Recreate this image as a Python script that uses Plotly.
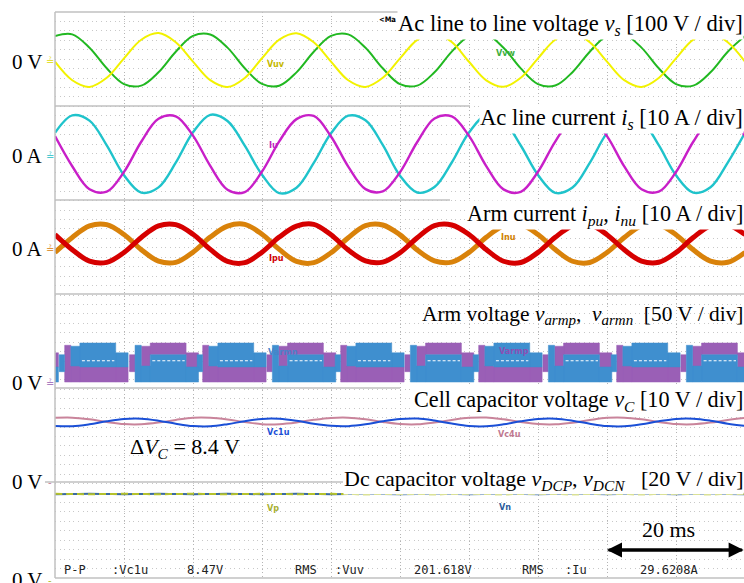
import plotly.graph_objects as go

# ---------------- data ----------------
t_ms = [0.0, 2.5, 5.0, 7.5, 10.0, 12.5, 15.0, 17.5, 20.0, 22.5, 25.0, 27.5, 30.0, 32.5,
        35.0, 37.5, 40.0, 42.5, 45.0, 47.5, 50.0, 52.5, 55.0, 57.5, 60.0, 62.5, 65.0,
        67.5, 70.0, 72.5, 75.0, 77.5, 80.0, 82.5, 85.0, 87.5, 90.0, 92.5, 95.0, 97.5, 100.0]

# Ac line-to-line voltages [V]
v_vw = [255, 272, 130, -88, -255, -272, -130, 88,
        256, 271, 131, -87, -254, -273, -131, 87,
        255, 272, 129, -88, -256, -272, -130, 89,
        254, 273, 130, -89, -255, -271, -129, 88,
        256, 272, 131, -88, -255, -272, -130, 88,
        255]
v_uv = [-18, -215, -285, -189, 18, 215, 285, 189,
        -17, -214, -286, -190, 19, 216, 284, 188,
        -18, -215, -285, -189, 17, 214, 286, 190,
        -19, -216, -284, -188, 18, 215, 285, 189,
        -18, -214, -285, -190, 18, 216, 285, 188,
        -18]
# Ac line currents [A]
i_v = [22.5, 41.0, 35.4, 9.2, -22.5, -41.0, -35.4, -9.2,
       23.0, 41.5, 35.0, 8.8, -22.0, -41.5, -35.8, -9.5,
       22.0, 40.6, 35.8, 9.6, -23.0, -40.8, -35.0, -9.0,
       22.8, 41.3, 35.2, 9.0, -22.3, -41.2, -35.6, -9.4,
       22.4, 41.0, 35.5, 9.3, -22.6, -41.0, -35.3, -9.1,
       22.5]
i_u = [19.0, -13.0, -37.4, -40.0, -19.0, 13.0, 37.4, 40.0,
       19.5, -12.6, -37.8, -40.4, -18.6, 13.4, 37.0, 40.3,
       18.6, -13.3, -37.2, -39.7, -19.3, 12.7, 37.7, 39.8,
       19.2, -12.8, -37.5, -40.2, -18.8, 13.2, 37.3, 40.1,
       19.0, -13.1, -37.4, -40.0, -19.1, 13.0, 37.5, 40.0,
       19.0]
# Arm currents [A]
i_pu = [15.3, -0.7, -12.9, -14.2, -3.7, 12.3, 24.5, 25.8,
        15.6, -0.4, -13.2, -14.5, -3.4, 12.6, 24.2, 26.1,
        15.0, -1.0, -12.6, -13.9, -4.0, 12.0, 24.8, 25.5,
        15.4, -0.6, -13.0, -14.3, -3.6, 12.4, 24.4, 25.9,
        15.2, -0.8, -12.8, -14.1, -3.8, 12.2, 24.6, 25.7,
        15.3]
i_nu = [-3.7, 12.3, 24.5, 25.8, 15.3, -0.7, -12.9, -14.2,
        -3.4, 12.6, 24.2, 26.1, 15.6, -0.4, -13.2, -14.5,
        -4.0, 12.0, 24.8, 25.5, 15.0, -1.0, -12.6, -13.9,
        -3.6, 12.4, 24.4, 25.9, 15.4, -0.6, -13.0, -14.3,
        -3.8, 12.2, 24.6, 25.7, 15.2, -0.8, -12.8, -14.1,
        -3.7]
# Cell capacitor voltages [V]
v_c4u = [68.0, 68.2, 66.4, 63.6, 61.4, 61.2, 63.0, 65.8,
         68.1, 68.1, 66.3, 63.5, 61.3, 61.3, 63.1, 65.9,
         67.9, 68.2, 66.5, 63.6, 61.4, 61.1, 63.0, 65.8,
         68.0, 68.3, 66.4, 63.7, 61.5, 61.2, 62.9, 65.7,
         68.0, 68.2, 66.4, 63.6, 61.4, 61.2, 63.0, 65.8,
         68.0]
v_c1u = [59.4, 59.1, 61.2, 64.4, 66.8, 67.1, 65.0, 61.8,
         59.3, 59.0, 61.3, 64.5, 66.9, 67.0, 64.9, 61.7,
         59.5, 59.2, 61.1, 64.3, 66.7, 67.2, 65.1, 61.9,
         59.4, 59.1, 61.2, 64.4, 66.8, 67.1, 65.0, 61.8,
         59.3, 59.0, 61.2, 64.4, 66.9, 67.1, 65.0, 61.8,
         59.4]
# Dc capacitor voltages [V]
v_p = [178.4, 178.0, 177.7, 178.1, 178.4, 178.0, 177.7, 178.1,
       178.5, 178.0, 177.6, 178.1, 178.4, 178.0, 177.7, 178.0,
       178.4, 178.1, 177.7, 178.1, 178.3, 178.0, 177.7, 178.1,
       178.4, 178.0, 177.6, 178.1, 178.4, 178.0, 177.7, 178.1,
       178.5, 178.0, 177.7, 178.0, 178.4, 178.0, 177.7, 178.1,
       178.4]
v_n = [177.7, 178.0, 178.4, 178.0, 177.7, 178.0, 178.4, 178.0,
       177.6, 178.0, 178.5, 178.0, 177.7, 178.0, 178.4, 178.1,
       177.7, 177.9, 178.4, 178.0, 177.8, 178.0, 178.4, 178.0,
       177.7, 178.0, 178.5, 178.0, 177.7, 178.0, 178.4, 178.0,
       177.6, 178.0, 178.4, 178.1, 177.7, 178.0, 178.4, 178.0,
       177.7]

# Arm voltages (multilevel PWM bands) [V]: transition instants and band levels
p_high_T = [-8.0, 12.3, 32.2, 52.2, 72.2, 92.2]   # purple (v_armp) high after these
n_high_T = [2.1, 22.1, 42.1, 62.1, 82.1]          # blue (v_armn) high after these
seg_start = [-1.5, -0.7, 0.2, 1.5, 6.7]
seg_end = [-0.7, 0.2, 1.5, 6.7, 8.5]
p_hi_lo = [60, None, 90, 150, 85]
p_hi_hi = [150, None, 195, 212, 160]
p_lo_lo = [None, 5, 5, 5, 5]
p_lo_hi = [None, 200, 90, 85, 85]
n_hi_lo = [60, None, 90, 85, 85]
n_hi_hi = [150, None, 195, 212, 160]
n_lo_lo = [None, 5, 5, 5, 5]
n_lo_hi = [None, 200, 90, 150, 85]
dash_level = 118

# ---------------- layout geometry ----------------
W, H = 744, 583
PL, PT = 55, 12
PB_PX = 578
PLOT_H = PB_PX - PT
DIV_PX = PLOT_H / 60.0
PX_PER_MS = 6.9
XMAX = (W - PL) / PX_PER_MS


def yrange(zero_px, per_div):
    return [-(PB_PX - zero_px) / DIV_PX * per_div, (zero_px - PT) / DIV_PX * per_div]


def py(ypx):
    return (PB_PX - ypx) / PLOT_H


def px(xpx):
    return (xpx - PL) / (W - PL)


def blocks(los, his, Ts):
    xs, ys = [], []
    for T in Ts:
        for s0, s1, lo, hi in zip(seg_start, seg_end, los, his):
            if lo is None:
                continue
            xs += [T + s0, T + s1, T + s1, T + s0, T + s0, None]
            ys += [lo, lo, hi, hi, lo, None]
    return xs, ys


fig = go.Figure()

# voltage panel (y2)
fig.add_trace(go.Scatter(x=t_ms, y=v_vw, yaxis="y2", mode="lines", line=dict(color="#21b821", width=2, shape="spline")))
fig.add_trace(go.Scatter(x=t_ms, y=v_uv, yaxis="y2", mode="lines", line=dict(color="#f2f200", width=2, shape="spline")))
# line currents (y3)
fig.add_trace(go.Scatter(x=t_ms, y=i_v, yaxis="y3", mode="lines", line=dict(color="#1fc3cb", width=2.4, shape="spline")))
fig.add_trace(go.Scatter(x=t_ms, y=i_u, yaxis="y3", mode="lines", line=dict(color="#c81fc8", width=2.4, shape="spline")))
# arm currents (y4)
fig.add_trace(go.Scatter(x=t_ms, y=i_nu, yaxis="y4", mode="lines", line=dict(color="#d9820a", width=5, shape="spline")))
fig.add_trace(go.Scatter(x=t_ms, y=i_pu, yaxis="y4", mode="lines", line=dict(color="#d60000", width=5, shape="spline")))
# arm voltages (y5)
pxs, pys = blocks(p_hi_lo, p_hi_hi, p_high_T)
qx, qy = blocks(p_lo_lo, p_lo_hi, n_high_T)
fig.add_trace(go.Scatter(x=pxs + qx, y=pys + qy, yaxis="y5", mode="lines", fill="toself",
                         fillcolor="#9a5fb6", line=dict(color="#9a5fb6", width=0.5)))
nxs, nys = blocks(n_hi_lo, n_hi_hi, n_high_T)
mx, my = blocks(n_lo_lo, n_lo_hi, p_high_T)
fig.add_trace(go.Scatter(x=nxs + mx, y=nys + my, yaxis="y5", mode="lines", fill="toself",
                         fillcolor="#3f8fcf", line=dict(color="#3f8fcf", width=0.5)))
dx, dy = [], []
for T in sorted(p_high_T + n_high_T):
    dx += [T + 1.8, T + 6.5, None]
    dy += [dash_level, dash_level, None]
fig.add_trace(go.Scatter(x=dx, y=dy, yaxis="y5", mode="lines",
                         line=dict(color="white", width=1.2, dash="3px,2px")))
# cell capacitor voltages (y6)
fig.add_trace(go.Scatter(x=t_ms, y=v_c4u, yaxis="y6", mode="lines", line=dict(color="#c9849b", width=2, shape="spline")))
fig.add_trace(go.Scatter(x=t_ms, y=v_c1u, yaxis="y6", mode="lines", line=dict(color="#1a4fd6", width=2, shape="spline")))
# dc capacitor voltages (y)
fig.add_trace(go.Scatter(x=t_ms, y=v_n, yaxis="y", mode="lines", line=dict(color="#3a6aa0", width=2, shape="spline")))
fig.add_trace(go.Scatter(x=t_ms, y=v_p, yaxis="y", mode="lines", line=dict(color="#b5c22c", width=2, shape="spline", dash="7px,4px")))

ax_common = dict(visible=False, overlaying="y", fixedrange=True)
fig.update_layout(
    width=W, height=H, showlegend=False,
    margin=dict(l=PL, r=0, t=PT, b=H - PB_PX, pad=0),
    paper_bgcolor="white", plot_bgcolor="white",
    xaxis=dict(range=[0, XMAX], dtick=10, showgrid=True, gridcolor="#b4b4b4", griddash="1px,2.5px",
               gridwidth=1, showticklabels=False, zeroline=False, showline=False, ticks=""),
    yaxis=dict(range=yrange(578, 20), dtick=20, showgrid=True, gridcolor="#c8c8c8", griddash="1px,3.6px",
               gridwidth=1, showticklabels=False, zeroline=False, showline=False, ticks=""),
    yaxis2=dict(range=yrange(60, 100), **ax_common),
    yaxis3=dict(range=yrange(154, 10), **ax_common),
    yaxis4=dict(range=yrange(249, 10), **ax_common),
    yaxis5=dict(range=yrange(383, 50), **ax_common),
    yaxis6=dict(range=yrange(482, 10), **ax_common),
)

# panel border / separator lines
sep = [(55, 55, 12, 578), (55, 400, 12, 12), (55, 470, 106, 106), (55, 450, 200, 200),
       (55, 744, 294, 294), (55, 400, 388, 388), (45, 343, 482, 482), (55, 744, 578, 578)]
for x0, x1, y0, y1 in sep:
    fig.add_shape(type="line", xref="paper", yref="paper", x0=px(x0), x1=px(x1), y0=py(y0), y1=py(y1),
                  line=dict(color="#c0c0c0", width=1.5), layer="above")

ann = []
serif = "Liberation Serif, Times New Roman, serif"
titles = [
    ("Ac line to line voltage <i>v<sub>s</sub></i> [100 V / div]", 25, True, 22.6),
    ("Ac line current <i>i<sub>s</sub></i> [10 A / div]", 119, True, 22.6),
    ("Arm current <i>i<sub>pu</sub></i>, <i>i<sub>nu</sub></i> [10 A / div]", 215, True, 22.2),
    ("Arm voltage <i>v<sub>armp</sub></i>,  <i>v<sub>armn</sub></i>  [50 V / div]", 315, False, 21.4),
    ("Cell capacitor voltage <i>v<sub>C</sub></i> [10 V / div]", 401, True, 22.2),
    ("Dc capacitor voltage <i>v<sub>DCP</sub></i>, <i>v<sub>DCN</sub></i>   [20 V / div]", 480, True, 22.0),
]
for txt, yc, bg, fs in titles:
    ann.append(dict(text=txt, xref="paper", yref="paper", x=1.0, y=py(yc), xanchor="right", yanchor="middle",
                    showarrow=False, font=dict(family=serif, size=fs, color="black"),
                    bgcolor="white" if bg else "rgba(0,0,0,0)", borderpad=0))

zero_labels = [("0 V", 62, "#e0d800", "≟"), ("0 A", 156, "#20c0c8", "≟"), ("0 A", 249, "#d9820a", "≟"),
               ("0 V", 383, "#9a5fb6", "≟"), ("0 V", 482, "#c9849b", "-"), ("0 V", 580, "#b5c22c", "-")]
for txt, yc, col, mk in zero_labels:
    ann.append(dict(text=txt, xref="paper", yref="paper", x=px(45), y=py(yc), xanchor="right", yanchor="middle",
                    showarrow=False, font=dict(family=serif, size=21, color="black")))
    ann.append(dict(text=mk, xref="paper", yref="paper", x=px(49.5), y=py(yc), xanchor="center", yanchor="middle",
                    showarrow=False, font=dict(family="DejaVu Sans", size=10, color=col)))

labfont = "DejaVu Sans Condensed, DejaVu Sans, sans-serif"
labels = [("Vuv", 276, 64, "#c4b800"), ("Vvw", 506, 53, "#3cae3c"), ("Iu", 273, 145, "#c020c0"),
          ("Ipu", 276, 258, "#d00000"), ("Inu", 508, 237, "#d08000"), ("Varmn", 283, 352, "#4a82c8"),
          ("Varmp", 514, 351, "#8a50b4"), ("Vc1u", 278, 432, "#1a4fd6"), ("Vc4u", 509, 434, "#c07890"),
          ("Vp", 273, 508, "#a8b030"), ("Vn", 505, 507, "#2a5a9a")]
for txt, xc, yc, col in labels:
    ann.append(dict(text="<b>" + txt + "</b>", xref="paper", yref="paper", x=px(xc), y=py(yc),
                    xanchor="center", yanchor="middle", showarrow=False,
                    font=dict(family=labfont, size=9, color=col)))

ann.append(dict(text="<b>&lt;Ma</b>", xref="paper", yref="paper", x=px(387), y=py(20), xanchor="center",
                yanchor="middle", showarrow=False, font=dict(family=labfont, size=7.5, color="black")))

ann.append(dict(text="Δ<i>V<sub>C</sub></i> = 8.4 V", xref="paper", yref="paper", x=px(128), y=py(448),
                xanchor="left", yanchor="middle", showarrow=False, font=dict(family=serif, size=22, color="black")))
ann.append(dict(text="20 ms", xref="paper", yref="paper", x=px(668), y=py(529), xanchor="center",
                yanchor="middle", showarrow=False, font=dict(family=serif, size=22, color="black")))
# 20 ms double arrow
ann.append(dict(text="", xref="x", yref="paper", x=80.0, y=py(550), axref="x", ax=99.8, ayref="pixel", ay=0,
                showarrow=True, arrowhead=2, arrowsize=1, arrowwidth=3, arrowcolor="black"))
ann.append(dict(text="", xref="x", yref="paper", x=99.8, y=py(550), axref="x", ax=80.0, ayref="pixel", ay=0,
                showarrow=True, arrowhead=2, arrowsize=1, arrowwidth=3, arrowcolor="black"))

meas = [("P-P", 62), (":Vc1u", 110), ("8.47V", 185), ("RMS", 293), (":Vuv", 333), ("201.618V", 412),
        ("RMS", 520), (":Iu", 563), ("29.6208A", 638)]
for txt, xl in meas:
    ann.append(dict(text=txt, xref="paper", yref="paper", x=px(xl), y=py(570), xanchor="left", yanchor="middle",
                    showarrow=False, font=dict(family="DejaVu Sans Mono, monospace", size=12, color="#222222")))

fig.update_layout(annotations=ann)
fig.write_html("out.html", config={"displayModeBar": False},
               post_script="document.body.style.margin='0px';document.body.style.overflow='hidden';")
